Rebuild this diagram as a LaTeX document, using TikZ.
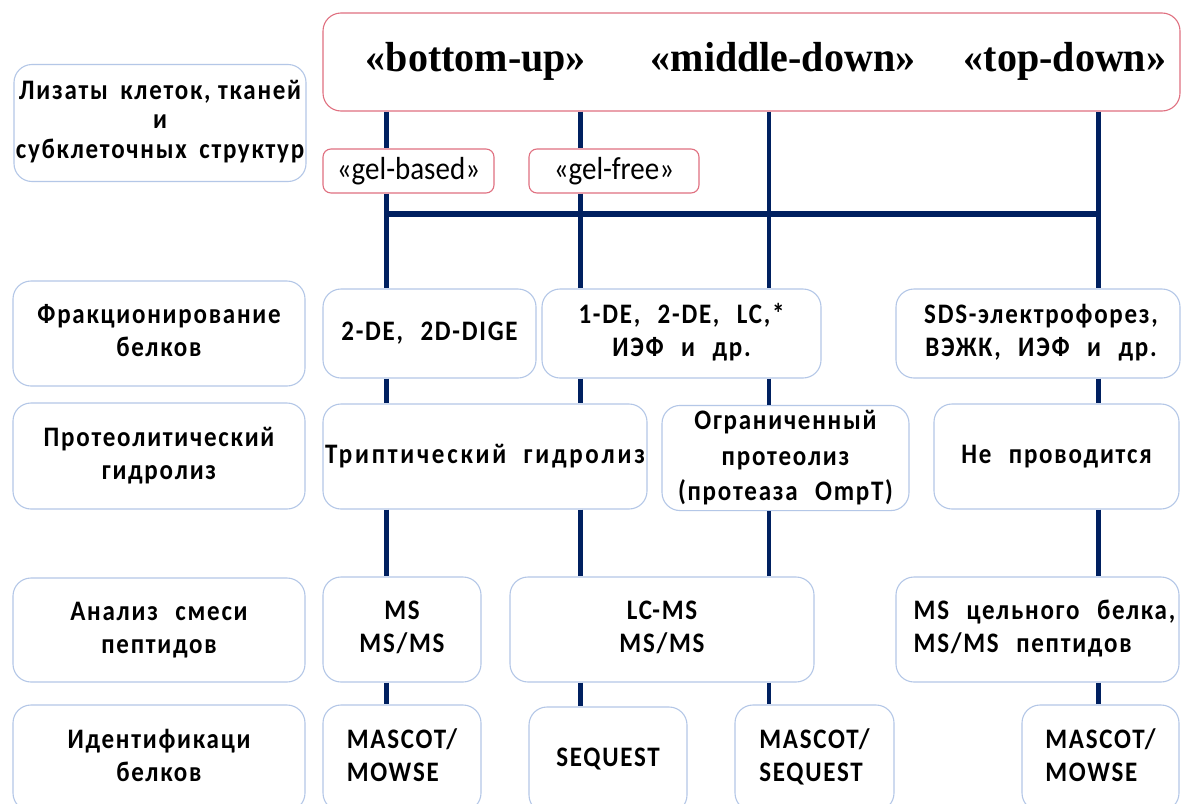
\documentclass[tikz,border=0pt]{standalone}
\usepackage{fontspec}
\usepackage{graphicx}
\newfontfamily\calfont{Carlito}[LetterSpace=7]
\newfontfamily\calwide{Carlito}[LetterSpace=11]
\newfontfamily\calreg{Carlito}
\newfontfamily\hdrfont{Liberation Serif}
\newcommand\wsp{\hspace{0.7em}}
\newcommand\vt[2][c]{\scalebox{1}[1.13]{\begin{tabular}{@{}#1@{}}#2\end{tabular}}}
\definecolor{boxblue}{RGB}{180,199,231}
\definecolor{pinkc}{RGB}{224,112,128}
\definecolor{navy}{RGB}{0,32,96}
\begin{document}
\begin{tikzpicture}[x=1pt,y=-1pt,
  box/.style={draw=boxblue, line width=1.1pt, rounded corners=18pt, fill=white, align=center, inner sep=0pt,
    font=\calfont\bfseries\fontsize{25}{29.2}\selectfont},
  gelbox/.style={draw=pinkc, line width=1.1pt, rounded corners=8pt, fill=white, inner sep=0pt,
    font=\calreg\fontsize{29}{33}\selectfont, minimum height=44pt},
  hdrbox/.style={draw=pinkc, line width=1.1pt, rounded corners=18pt, fill=white},
  hdrtext/.style={font=\hdrfont\bfseries\fontsize{40}{44}\selectfont, inner sep=0pt, anchor=base},
  conn/.style={draw=navy, line width=4.5pt},
  bar/.style={draw=navy, line width=5.5pt}]
\useasboundingbox (0,0) rectangle (1182,803);
\clip (0,0) rectangle (1182,803);
\fill[white] (0,0) rectangle (1182,803);

\coordinate (c1) at (386.5,0);
\coordinate (c2) at (580.5,0);
\coordinate (c3) at (769,0);
\coordinate (c4) at (1098.5,0);
\coordinate (h1) at (384.25,214);
\coordinate (h4) at (1100.75,214);

% left column
\node[box, minimum width=292pt, minimum height=117pt, font=\calfont\bfseries\fontsize{25}{26.5}\selectfont] (lyz) at (160,123)
  {\vt{Лизаты\hspace{0.5em}клеток, тканей\\ и\\ субклеточных\hspace{0.5em}структур}};
\node[box, minimum width=292pt, minimum height=105pt] (frac) at (159,333.5) {\vt{Фракционирование\\ белков}};
\node[box, minimum width=292pt, minimum height=106pt] (prot) at (159,456) {\vt{Протеолитический\\ гидролиз}};
\node[box, minimum width=292pt, minimum height=104pt] (anal) at (159,630) {\vt{Анализ\wsp смеси\\ пептидов}};
\node[box, minimum width=292pt, minimum height=106pt] (ident) at (159,758) {\vt{Идентификаци\\ белков}};

% header
\node[hdrbox, minimum width=857pt, minimum height=98pt] (hdr) at (751.5,62) {};
\node[hdrtext] (tbu) at (476,71) {\scalebox{1}[1.05]{«bottom-up»}};
\node[hdrtext] (tmd) at (783,71) {\scalebox{1}[1.05]{«middle-down»}};
\node[hdrtext] (ttd) at (1065,71) {\scalebox{1}[1.05]{«top-down»}};

% gel boxes
\node[gelbox, minimum width=171pt] (gelb) at (408.5,171) {\scalebox{1}[1.1]{«gel-based»}};
\node[gelbox, minimum width=170pt] (gelf) at (614,171) {\scalebox{1}[1.1]{«gel-free»}};

% fractionation row
\node[box, minimum width=213pt, minimum height=89pt] (de2) at (429.5,333.5) {\vt{2-DE,\wsp 2D-DIGE}};
\node[box, minimum width=279pt, minimum height=89pt] (de1) at (681.5,333.5) {\vt{1-DE,\wsp 2-DE,\wsp LC,*\\ ИЭФ\wsp и\wsp др.}};
\node[box, minimum width=284pt, minimum height=89pt] (sds) at (1038,333.5) {\hspace*{6pt}\vt{SDS-электрофорез,\\ ВЭЖК,\wsp ИЭФ\wsp и\wsp др.}};

% proteolysis row
\node[box, minimum width=324pt, minimum height=105pt, font=\calwide\bfseries\fontsize{25}{29.2}\selectfont] (tryp) at (485,456.5) {\vt{Триптический\wsp гидролиз}};
\node[box, minimum width=247pt, minimum height=105pt, font=\calfont\bfseries\fontsize{25}{31}\selectfont] (ogr) at (785.5,458) {\vt{Ограниченный\\ протеолиз\\ (протеаза\wsp OmpT)}};
\node[box, minimum width=245pt, minimum height=105pt] (nepr) at (1056.5,456.5) {\vt{Не\wsp проводится}};

% analysis row
\node[box, minimum width=158pt, minimum height=105pt] (ms1) at (402,629.5) {\vt{MS\\ MS/MS}};
\node[box, minimum width=304pt, minimum height=105pt] (lcms) at (662,629.5) {\vt{LC-MS\\ MS/MS}};
\node[box, minimum width=283pt, minimum height=105pt] (mscel) at (1037.5,629.5) {\hspace*{14pt}\vt[l]{MS\wsp цельного\wsp белка,\\ MS/MS\wsp пептидов}};

% identification row
\node[box, minimum width=158pt, minimum height=106pt] (masc1) at (402,758) {\vt[l]{MASCOT/\\ MOWSE}};
\node[box, minimum width=158pt, minimum height=106pt] (seq) at (608,760) {\vt{SEQUEST}};
\node[box, minimum width=159pt, minimum height=106pt] (mascseq) at (814.5,758) {\vt[l]{MASCOT/\\ SEQUEST}};
\node[box, minimum width=157pt, minimum height=106pt] (masc2) at (1100.5,758) {\vt[l]{MASCOT/\\ MOWSE}};

% connectors
\draw[bar] (h1) -- (h4);
\draw[conn] (hdr.south -| c1) -- (gelb.north -| c1);
\draw[conn] (gelb.south -| c1) -- (de2.north -| c1);
\draw[conn] (de2.south -| c1) -- (tryp.north -| c1);
\draw[conn] (tryp.south -| c1) -- (ms1.north -| c1);
\draw[conn] (ms1.south -| c1) -- (masc1.north -| c1);

\draw[conn] (hdr.south -| c2) -- (gelf.north -| c2);
\draw[conn] (gelf.south -| c2) -- (de1.north -| c2);
\draw[conn] (de1.south -| c2) -- (tryp.north -| c2);
\draw[conn] (tryp.south -| c2) -- (lcms.north -| c2);
\draw[conn] (lcms.south -| c2) -- (seq.north -| c2);

\draw[conn] (hdr.south -| c3) -- (de1.north -| c3);
\draw[conn] (de1.south -| c3) -- (ogr.north -| c3);
\draw[conn] (ogr.south -| c3) -- (lcms.north -| c3);
\draw[conn] (lcms.south -| c3) -- (mascseq.north -| c3);

\draw[conn] (hdr.south -| c4) -- (sds.north -| c4);
\draw[conn] (sds.south -| c4) -- (nepr.north -| c4);
\draw[conn] (nepr.south -| c4) -- (mscel.north -| c4);
\draw[conn] (mscel.south -| c4) -- (masc2.north -| c4);
\end{tikzpicture}
\end{document}
